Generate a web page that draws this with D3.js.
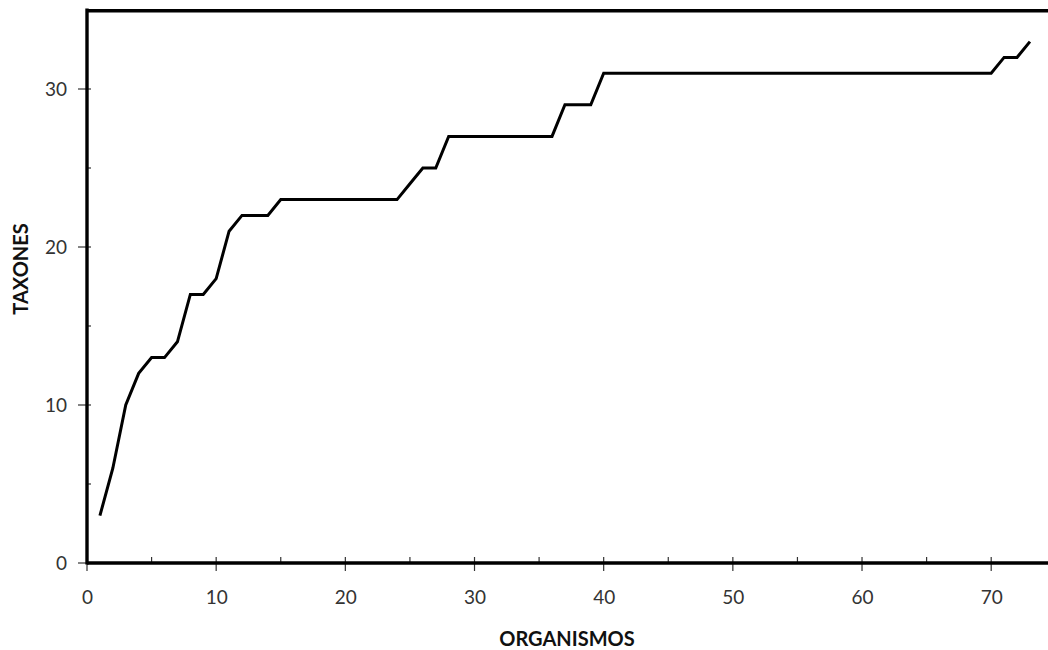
<!DOCTYPE html>
<html>
<head>
<meta charset="utf-8">
<script src="https://cdn.jsdelivr.net/npm/d3@7/dist/d3.min.js"></script>
<style>
  html, body { margin: 0; padding: 0; background: #fff; }
  svg { display: block; }
  text { font-family: Lato, "Open Sans", sans-serif; }
</style>
</head>
<body>
<svg id="chart" width="1048" height="650"></svg>
<script>
// Species accumulation: cumulative taxa per organism sampled
const organismos = [1,2,3,4,5,6,7,8,9,10,11,12,13,14,15,16,17,18,19,20,21,22,23,24,25,26,27,28,29,30,31,32,33,34,35,36,37,38,39,40,41,42,43,44,45,46,47,48,49,50,51,52,53,54,55,56,57,58,59,60,61,62,63,64,65,66,67,68,69,70,71,72,73];
const taxones = [3,6,10,12,13,13,14,17,17,18,21,22,22,22,23,23,23,23,23,23,23,23,23,23,24,25,25,27,27,27,27,27,27,27,27,27,29,29,29,31,31,31,31,31,31,31,31,31,31,31,31,31,31,31,31,31,31,31,31,31,31,31,31,31,31,31,31,31,31,31,32,32,33];

const xMajorTicks = [0,10,20,30,40,50,60,70];
const xMinorTicks = [5,15,25,35,45,55,65];
const yMajorTicks = [0,10,20,30];
const yMinorTicks = [5,15,25];

const xTitle = "ORGANISMOS";
const yTitle = "TAXONES";

const W = 1048, H = 650;
const svg = d3.select("#chart");

const x = d3.scaleLinear().domain([0, 75]).range([87, 87 + 75 * 12.917]);
const y = d3.scaleLinear().domain([0, 35]).range([563, 10]);

const tickColor = "#333";
const labelColor = "#333";

// Y axis: labels via d3.axisLeft, tick marks drawn across the spine
const yAxis = d3.axisLeft(y).tickValues(yMajorTicks).tickSize(0).tickPadding(20)
  .tickFormat(d3.format("d"));
const gy = svg.append("g").attr("transform", `translate(${x(0)},0)`).call(yAxis);
gy.select(".domain").remove();
gy.selectAll("text").attr("font-size", 19).attr("fill", labelColor)
  .attr("font-family", "Lato, 'Open Sans', sans-serif");

svg.append("g").selectAll("line").data(yMajorTicks).join("line")
  .attr("x1", x(0) - 9).attr("x2", x(0) + 4)
  .attr("y1", d => y(d)).attr("y2", d => y(d))
  .attr("stroke", tickColor).attr("stroke-width", 1.2);
svg.append("g").selectAll("line").data(yMinorTicks).join("line")
  .attr("x1", x(0)).attr("x2", x(0) + 4)
  .attr("y1", d => y(d)).attr("y2", d => y(d))
  .attr("stroke", tickColor).attr("stroke-width", 1.2);

// X axis
const xAxis = d3.axisBottom(x).tickValues(xMajorTicks).tickSize(0).tickPadding(28)
  .tickFormat(d3.format("d"));
const gx = svg.append("g").attr("transform", `translate(0,${y(0)})`).call(xAxis);
gx.select(".domain").remove();
gx.selectAll("text").attr("font-size", 19).attr("fill", labelColor)
  .attr("font-family", "Lato, 'Open Sans', sans-serif");

svg.append("g").selectAll("line").data(xMajorTicks).join("line")
  .attr("x1", d => x(d)).attr("x2", d => x(d))
  .attr("y1", y(0) - 6).attr("y2", y(0) + 8)
  .attr("stroke", tickColor).attr("stroke-width", 1.2);
svg.append("g").selectAll("line").data(xMinorTicks).join("line")
  .attr("x1", d => x(d)).attr("x2", d => x(d))
  .attr("y1", y(0) - 6).attr("y2", y(0))
  .attr("stroke", tickColor).attr("stroke-width", 1.2);

// Frame: left spine, bottom spine, top border
const frame = svg.append("g").attr("stroke", "#000").attr("stroke-width", 3.4)
  .attr("fill", "none");
frame.append("line").attr("x1", x(0)).attr("x2", x(0)).attr("y1", y(35) - 1.5).attr("y2", y(0) + 1.5);
frame.append("line").attr("x1", x(0)).attr("x2", W).attr("y1", y(0)).attr("y2", y(0));
frame.append("line").attr("x1", x(0)).attr("x2", W).attr("y1", y(35) + 0.7).attr("y2", y(35) + 0.7);

// Accumulation curve
const line = d3.line().x((d, i) => x(organismos[i])).y(d => y(d));
svg.append("path").datum(taxones)
  .attr("d", line)
  .attr("fill", "none").attr("stroke", "#000").attr("stroke-width", 3)
  .attr("stroke-linejoin", "miter");

// Axis titles
svg.append("text").attr("x", 567).attr("y", 646)
  .attr("text-anchor", "middle").attr("font-size", 20).attr("font-weight", "bold")
  .attr("fill", "#111").text(xTitle);
svg.append("text")
  .attr("transform", `translate(28,${269}) rotate(-90)`)
  .attr("text-anchor", "middle").attr("font-size", 20).attr("font-weight", "bold")
  .attr("fill", "#111").text(yTitle);
</script>
</body>
</html>
